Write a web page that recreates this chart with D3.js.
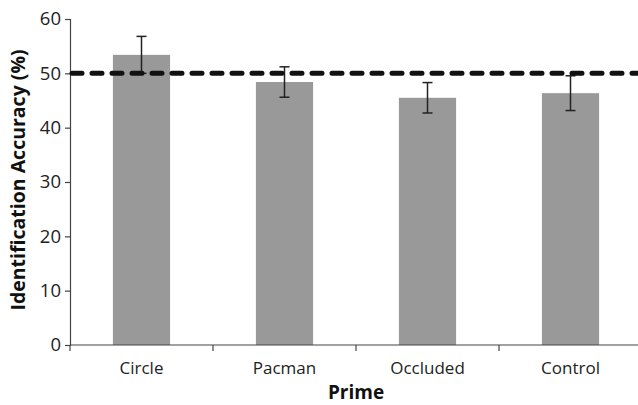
<!DOCTYPE html>
<html><head><meta charset="utf-8">
<script src="https://cdn.jsdelivr.net/npm/d3@7"></script>
<style>body{margin:0;background:#fff}svg{display:block}text{font-family:"Open Sans",sans-serif}</style>
</head><body>
<script>
const categories = ["Circle", "Pacman", "Occluded", "Control"];
const values = [53.4, 48.4, 45.5, 46.35];
const errors = [3.4, 2.8, 2.8, 3.2];
const yTicks = [0, 10, 20, 30, 40, 50, 60];
const chanceLevel = 50;

const W = 638, H = 405;
const m = {left: 70, top: 19, bottom: 60};
const plotW = 572, plotH = 326;
const svg = d3.select("body").append("svg").attr("width", W).attr("height", H);
const g = svg.append("g").attr("transform", `translate(${m.left},${m.top})`);

const x = d3.scaleBand().domain(categories).range([0, plotW]).paddingInner(0.6).paddingOuter(0.3);
const y = d3.scaleLinear().domain([0, 60]).range([plotH, 0]);

g.selectAll("rect.bar").data(categories).join("rect")
  .attr("x", d => x(d)).attr("width", x.bandwidth())
  .attr("y", (d, i) => y(values[i])).attr("height", (d, i) => plotH - y(values[i]))
  .attr("fill", "#999999");

// y axis
const ya = g.append("g").call(d3.axisLeft(y).tickValues(yTicks).tickSize(5).tickPadding(4));
ya.select(".domain").attr("stroke", "#444").attr("stroke-width", 1.2);
ya.selectAll(".tick line").attr("stroke", "#444").attr("stroke-width", 1.2);
ya.selectAll("text").attr("font-size", 18.5).attr("fill", "#222");

// x axis line and ticks at band boundaries
g.append("line").attr("x1", 0).attr("x2", plotW).attr("y1", plotH).attr("y2", plotH)
  .attr("stroke", "#444").attr("stroke-width", 1.2);
const bounds = d3.range(categories.length + 1).map(i => i * (plotW / categories.length));
g.selectAll("line.xt").data(bounds).join("line")
  .attr("x1", d => d).attr("x2", d => d).attr("y1", plotH).attr("y2", plotH + 6)
  .attr("stroke", "#444").attr("stroke-width", 1.2);
g.selectAll("text.xl").data(categories).join("text")
  .attr("x", d => x(d) + x.bandwidth() / 2).attr("y", plotH + 29)
  .attr("text-anchor", "middle").attr("font-size", 17).attr("fill", "#222").text(d => d);

// error bars
const cap = 5;
const eb = g.selectAll("g.eb").data(categories).join("g");
eb.append("line").attr("x1", d => x(d) + x.bandwidth() / 2).attr("x2", d => x(d) + x.bandwidth() / 2)
  .attr("y1", (d, i) => y(values[i] - errors[i])).attr("y2", (d, i) => y(values[i] + errors[i]));
eb.append("line").attr("x1", d => x(d) + x.bandwidth() / 2 - cap).attr("x2", d => x(d) + x.bandwidth() / 2 + cap)
  .attr("y1", (d, i) => y(values[i] + errors[i])).attr("y2", (d, i) => y(values[i] + errors[i]));
eb.append("line").attr("x1", d => x(d) + x.bandwidth() / 2 - cap).attr("x2", d => x(d) + x.bandwidth() / 2 + cap)
  .attr("y1", (d, i) => y(values[i] - errors[i])).attr("y2", (d, i) => y(values[i] - errors[i]));
eb.selectAll("line").attr("stroke", "#222").attr("stroke-width", 1.5);

// chance line
g.append("line").attr("x1", 2).attr("x2", plotW).attr("y1", y(chanceLevel)).attr("y2", y(chanceLevel))
  .attr("stroke", "#111").attr("stroke-width", 5).attr("stroke-dasharray", "10,10").attr("stroke-linecap", "round");

// titles
svg.append("text").attr("x", 356).attr("y", 399).attr("text-anchor", "middle")
  .attr("font-size", 19).attr("font-weight", "bold").attr("fill", "#111").text("Prime");
svg.append("text").attr("transform", `translate(25,180) rotate(-90)`)
  .attr("text-anchor", "middle").attr("font-size", 19.5).attr("font-weight", "bold").attr("fill", "#111")
  .text("Identification Accuracy (%)");
</script>
</body></html>
